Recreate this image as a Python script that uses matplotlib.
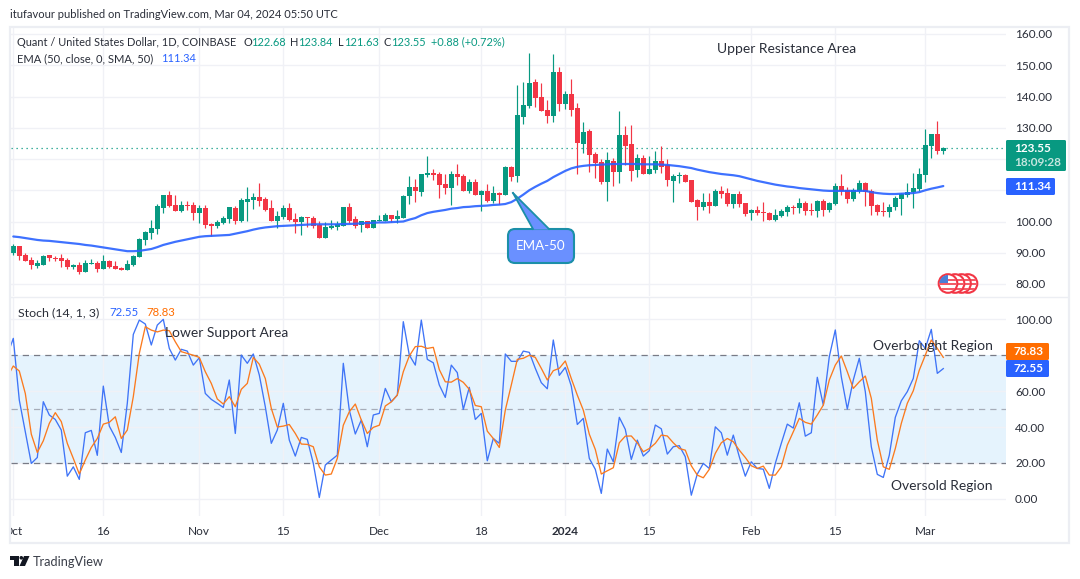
import matplotlib
matplotlib.use("Agg")
import matplotlib.pyplot as plt
import numpy as np
from matplotlib.patches import FancyBboxPatch, Polygon, Rectangle, Circle
from matplotlib.transforms import Bbox

plt.rcParams['font.family'] = ['Lato', 'DejaVu Sans']

opens = [89.8,92.2,89.3,87.7,85.7,86.1,89.3,88.3,88.3,87.7,
85.5,86.1,83.8,86.5,86.7,84.8,87.4,85.8,85.1,84.5,
86.1,88.7,94.1,96.4,97.6,104.4,108.6,105.3,103.4,105.3,
105.3,102.8,104.4,99.3,98.6,99.6,100.9,104.4,100.2,106.3,
107.0,107.9,107.3,104.4,100.2,101.5,104.4,100.9,100.0,101.5,
101.2,98.9,94.8,98.0,98.3,98.6,104.7,100.9,98.9,100.2,
97.9,100.1,100.1,102.0,100.7,101.1,108.1,111.0,109.4,114.8,
115.5,115.2,112.0,110.7,115.2,114.5,109.7,112.6,108.4,109.7,
106.5,109.1,108.4,117.4,114.5,133.4,136.9,144.6,139.8,135.6,
133.7,147.8,137.6,140.8,136.3,124.8,128.9,121.6,119.0,112.6,
119.3,115.8,127.6,124.8,116.4,120.3,115.2,116.4,119.3,118.0,
112.9,114.5,114.8,113.2,106.8,104.7,106.2,104.9,109.7,109.1,
105.5,108.7,105.9,102.7,103.6,102.9,102.7,100.4,101.7,103.0,
104.6,104.3,105.9,103.6,103.3,106.5,103.6,105.5,111.3,110.0,
107.1,109.7,112.3,109.7,105.2,103.3,103.0,104.6,107.1,108.4,
109.4,110.3,114.8,124.1,127.9,122.68]
closes = [92.2,89.0,87.4,86.1,86.8,89.0,88.3,88.1,87.4,85.5,
86.1,83.8,86.7,86.7,84.8,87.4,85.5,84.8,84.5,86.4,
89.0,94.4,96.7,98.0,105.0,108.6,105.0,103.4,105.3,105.0,
102.8,104.4,98.9,98.6,99.9,101.2,104.7,100.2,107.0,107.3,
107.9,106.6,103.7,100.2,101.8,104.4,100.5,99.9,101.5,101.2,
98.6,94.8,98.3,98.6,99.3,104.7,100.2,98.6,100.2,97.9,
100.4,100.3,102.0,100.7,101.7,108.1,111.0,109.7,115.2,115.5,
114.8,111.6,110.7,115.2,114.2,109.7,112.6,108.4,109.7,106.5,
109.1,108.4,117.4,114.2,134.0,137.2,144.3,139.5,135.3,133.7,
147.8,137.6,140.8,135.6,125.1,128.6,121.2,118.7,112.6,119.6,
115.8,127.6,124.1,116.1,120.3,115.2,116.8,119.3,117.4,113.2,
114.5,114.8,112.6,106.2,104.6,106.2,104.9,109.7,108.7,105.5,
108.7,105.5,102.3,103.6,102.7,102.7,100.4,102.0,103.3,104.6,
104.3,105.9,103.3,103.3,106.5,103.6,105.9,111.3,109.7,107.1,
110.0,112.3,109.4,104.9,103.0,103.0,104.6,107.5,108.7,109.4,
110.7,115.1,124.4,127.9,122.5,123.55]
highs = [92.8,92.2,89.8,88.7,87.6,89.2,89.3,89.1,89.6,88.3,
86.4,87.1,87.7,88.0,87.4,89.3,87.7,87.4,85.5,87.7,
89.3,94.8,97.0,100.5,105.7,108.6,109.8,108.6,106.6,106.6,
106.3,105.3,105.3,99.6,100.5,101.8,104.7,105.0,107.6,111.1,
109.2,112.4,107.9,107.0,103.4,105.3,106.0,102.8,101.8,101.5,
101.8,100.2,99.9,100.5,100.2,104.7,106.0,101.8,100.2,100.2,
100.4,102.0,102.7,102.0,103.6,108.4,114.5,113.6,115.2,120.9,
116.8,115.8,115.2,116.1,118.4,115.2,113.6,113.6,110.0,112.0,
111.3,109.4,117.7,117.7,143.6,144.6,153.9,145.6,144.3,138.8,
153.6,149.4,141.7,145.6,137.9,131.8,129.6,122.2,120.0,122.2,
120.3,135.3,130.5,130.8,121.6,121.2,120.9,122.5,124.1,120.0,
115.2,115.8,115.2,113.2,107.2,109.1,109.1,110.3,111.3,110.7,
108.7,109.7,105.9,103.9,104.9,106.2,103.0,103.9,103.9,105.2,
105.2,107.5,106.5,105.9,106.8,107.1,106.2,112.3,115.1,111.0,
110.7,113.2,112.6,110.3,105.5,106.2,105.5,108.1,109.1,112.3,
115.5,117.1,129.5,127.9,132.1,123.84]
lows = [89.3,87.7,87.4,84.8,85.1,86.1,87.5,87.5,85.5,84.9,
84.9,83.2,83.8,86.5,83.8,84.8,85.1,84.8,84.5,84.5,
85.8,88.7,92.5,94.4,96.0,102.8,104.7,103.4,103.1,103.7,
100.5,99.6,98.0,95.4,98.0,99.3,99.6,99.3,99.9,100.2,
104.1,105.0,103.4,100.2,98.0,100.9,100.2,96.4,95.7,98.3,
98.0,94.8,94.8,97.6,97.3,98.6,99.6,98.0,96.7,97.9,
97.9,100.1,100.1,99.7,99.4,101.1,105.5,106.2,108.1,114.2,
113.2,107.5,108.8,105.2,111.6,109.7,109.1,108.4,103.3,106.2,
105.9,105.5,108.4,112.9,112.6,131.2,136.3,136.6,135.3,131.5,
131.8,135.3,136.0,133.7,115.2,121.9,115.8,113.9,112.0,106.5,
111.3,112.3,118.0,112.9,114.2,115.2,115.2,115.5,115.5,111.3,
106.2,112.3,112.6,106.2,100.4,103.6,102.7,104.9,107.5,104.9,
104.3,104.6,101.7,100.4,102.0,100.1,100.4,100.1,101.4,101.7,
102.3,102.7,102.0,102.0,101.4,101.7,103.0,105.2,108.4,105.9,
106.5,109.1,104.9,102.0,102.0,101.7,101.4,103.6,102.0,107.8,
104.3,109.7,112.6,120.3,121.5,121.63]
ema_50 = [95.2,95.0,94.7,94.4,94.1,93.9,93.8,93.6,93.4,93.2,
93.0,92.8,92.5,92.3,92.0,91.7,91.4,91.1,90.8,90.5,
90.5,90.6,90.9,91.2,91.8,92.5,93.0,93.5,93.9,94.3,
94.7,95.1,95.3,95.4,95.5,95.6,95.7,96.1,96.5,96.9,
97.4,97.8,98.1,98.3,98.5,98.6,98.7,98.8,98.9,99.0,
99.1,99.1,99.1,99.1,99.1,99.2,99.2,99.3,99.4,99.5,
99.6,99.7,99.7,99.8,99.9,100.0,100.6,101.1,102.0,102.7,
103.1,103.4,103.7,104.1,104.3,104.6,104.7,104.9,105.0,105.1,
105.3,105.4,105.6,106.2,107.3,108.6,110.0,111.1,112.1,113.0,
114.2,115.2,116.2,117.0,117.5,117.8,118.0,118.1,118.2,118.3,
118.4,118.4,118.4,118.4,118.4,118.3,118.3,118.3,118.2,118.1,
117.9,117.7,117.4,117.1,116.6,116.2,115.8,115.5,115.2,115.0,
114.8,114.5,114.0,113.5,113.0,112.6,112.2,111.8,111.5,111.2,
111.0,110.7,110.5,110.3,110.1,109.9,109.8,109.8,109.8,109.8,
109.8,109.8,109.8,109.4,109.1,108.9,108.8,108.8,108.9,109.0,
109.1,109.4,110.0,110.5,110.9,111.34]
# stochastic series start one session before the first visible candle
stoch_k = [80.1,89.4,55.0,37.4,19.7,23.0,54.1,46.7,44.2,38.3,12.6,
17.8,10.8,36.8,38.1,24.2,62.8,40.5,34.2,25.8,53.2,
91.6,99.6,97.4,85.7,96.8,100.0,83.8,77.3,83.3,82.3,
74.5,78.6,58.7,55.4,53.2,50.9,66.2,36.4,80.1,75.5,
80.7,69.0,51.3,30.9,38.3,53.2,32.7,23.8,34.2,33.1,
19.7,0.7,18.8,21.6,24.3,75.5,49.4,36.1,43.9,29.0,
46.7,47.6,61.5,54.1,57.8,98.7,80.1,74.5,99.6,77.7,
75.8,63.4,56.5,74.5,70.3,49.8,62.1,44.2,47.6,21.2,
33.6,30.9,80.7,76.6,76.6,82.3,81.6,72.7,64.7,61.3,
88.5,68.8,73.2,62.8,41.4,44.8,22.5,16.4,3.0,27.7,
20.6,45.4,38.7,21.9,32.7,23.8,26.8,41.1,39.0,24.9,
29.0,29.6,23.4,2.0,13.8,19.7,16.9,40.1,36.8,24.3,
35.5,23.4,12.6,20.6,16.9,16.5,5.8,19.7,30.9,41.6,
39.4,53.5,34.9,36.8,67.7,52.2,79.2,94.1,68.0,50.0,
66.2,78.3,59.7,29.0,13.6,11.9,24.3,45.4,54.6,59.7,
67.1,88.1,83.8,94.4,69.9,72.55]
stoch_d = [68.0,74.0,71.2,58.7,36.0,25.8,32.3,42.0,48.0,43.0,30.9,
22.5,13.8,21.6,28.6,33.6,41.6,42.6,45.7,33.6,38.3,
56.9,81.0,95.9,94.0,93.0,94.0,93.7,87.5,82.0,81.0,
80.0,78.8,70.8,64.3,55.6,52.8,56.9,51.3,61.0,64.3,
78.8,75.0,67.0,50.4,40.0,40.5,41.4,36.4,30.5,30.3,
29.0,17.8,13.2,13.8,22.5,41.0,48.5,52.8,43.9,36.4,
39.8,41.0,51.7,54.0,57.8,70.8,79.6,84.8,85.0,83.8,
84.4,72.0,65.2,65.0,67.0,64.9,61.0,52.0,51.3,37.7,
33.6,28.6,49.4,63.4,77.7,78.3,80.0,78.8,72.7,66.2,
71.4,72.7,76.8,67.0,57.8,49.4,36.0,27.5,13.8,15.6,
17.3,31.2,34.9,35.0,31.2,26.2,28.0,30.9,35.5,35.0,
31.2,28.0,27.1,18.4,13.2,11.7,16.4,25.3,31.2,33.6,
31.8,27.1,23.0,18.4,16.9,18.2,13.2,13.2,17.8,29.9,
37.4,44.8,42.6,41.6,46.7,52.2,66.2,74.5,79.6,70.8,
61.5,65.2,68.4,56.0,32.7,17.8,16.4,28.0,42.0,53.2,
60.2,71.7,80.0,88.5,83.8,78.83]
date_ticks = [0, 15, 31, 45, 61, 78, 92, 106, 123, 137, 152]
date_labels = ['Oct', '16', 'Nov', '15', 'Dec', '18', '2024', '15', 'Feb', '15', 'Mar']
price_ticks = [80, 90, 100, 110, 120, 130, 140, 150, 160]
hidden_price_labels = [110, 120]   # covered by the last-value badges in the reference
stoch_ticks = [0, 20, 40, 60, 100]
last_close = 123.55
GREEN, RED, BLUE, ORANGE = '#089981', '#F23645', '#2962FF', '#FF6D00'
GRID, FRAME, TXT = '#f0f1f6', '#eceef3', '#2a2e39'
FS = 8.5      # axis text
FS_H = 7.9    # legend rows
FS_A = 10.0   # hand-placed annotations

W, H = 1080, 579
fig = plt.figure(figsize=(W/100, H/100), dpi=100, facecolor='white')
def px_axes(x0, y0, x1, y1, **kw):
    return fig.add_axes([x0/W, 1-y1/H, (x1-x0)/W, (y1-y0)/H], **kw)

x_lim = (-0.383, 165.45)
ax = px_axes(11, 28, 1006, 296)
ax2 = px_axes(11, 298, 1006, 516)

idx = np.arange(len(closes))
o, h, l, c = map(np.array, (opens, highs, lows, closes))
cols = np.where(c >= o, GREEN, RED)
ax.vlines(idx, l, h, colors=cols, lw=0.85, zorder=3)
ax.bar(idx, np.maximum(np.abs(c-o), 0.25), bottom=np.minimum(o, c), width=0.8, color=cols, zorder=3, lw=0)
ax.plot(idx, ema_50, color=BLUE, lw=1.6, alpha=0.9, zorder=4, solid_capstyle='round')
ax.axhline(last_close, color=GREEN, lw=0.9, ls=(0, (1, 3)), zorder=2)
ax.set_xlim(*x_lim)
ax.set_ylim(76.16, 161.92)
ax.set_yticks(price_ticks)
ax.set_yticklabels(['' if v in hidden_price_labels else f'{v:.2f}' for v in price_ticks])
ax.set_xticks(date_ticks)
ax.tick_params(axis='x', length=0, labelbottom=False)

si = np.arange(-1, len(closes))
ax2.axhspan(20, 80, color='#e5f3fd', lw=0, zorder=0.2)
ax2.axhline(80, color='#787b86', lw=0.9, ls=(0, (5, 4)), zorder=1)
ax2.axhline(20, color='#787b86', lw=0.9, ls=(0, (5, 4)), zorder=1)
ax2.axhline(50, color='#a6acb8', lw=0.9, ls=(0, (5, 4)), zorder=1)
ax2.plot(si, stoch_k, color='#3f74f7', lw=0.95, zorder=3)
ax2.plot(si, stoch_d, color='#fb7a1e', lw=0.95, zorder=3)
ax2.set_xlim(*x_lim)
ax2.set_ylim(-9.6, 111.9)
ax2.set_yticks(stoch_ticks)
ax2.set_yticklabels([f'{v:.2f}' for v in stoch_ticks])
ax2.set_xticks(date_ticks)
ax2.set_xticklabels(date_labels)
for a in (ax, ax2):
    a.set_axisbelow(True)
    a.grid(True, color=GRID, lw=1.0)
    for s in a.spines.values():
        s.set_visible(False)
    a.yaxis.tick_right()
    a.tick_params(axis='y', length=0, pad=6.5, labelsize=FS, labelcolor=TXT)
ax2.tick_params(axis='x', length=0, pad=7.5, labelsize=FS, labelcolor=TXT)
for lab, name in zip(ax2.get_xticklabels(), date_labels):
    if name == '2024':
        lab.set_fontweight('bold')
    lab.set_clip_on(True)
    lab.set_clip_box(Bbox([[11, 0], [1006, H]]))

ov = fig.add_axes([0, 0, 1, 1], facecolor='none', zorder=5)
ov.set_xlim(0, W); ov.set_ylim(H, 0); ov.axis('off')
# frame and pane divider
ov.add_patch(Rectangle((10, 27), 1059, 516, fill=False, ec=FRAME, lw=1.6))
ov.plot([11, 1068], [297, 297], color=FRAME, lw=1.0)

def t(x, y, s, color=TXT, size=FS, **kw):
    return ov.text(x, y, s, color=color, fontsize=size, va='center', ha=kw.pop('ha', 'left'), **kw)

t(10, 15, 'itufavour published on TradingView.com, Mar 04, 2024 05:50 UTC', size=8.0)
t(17, 42, 'Quant / United States Dollar, 1D, COINBASE', size=FS_H)
for x, s, col in [(243, 'O', TXT), (251, '122.68', GREEN), (290, 'H', TXT), (298, '123.84', GREEN),
                  (338, 'L', TXT), (344, '121.63', GREEN), (384, 'C', TXT), (391, '123.55', GREEN),
                  (431, '+0.88 (+0.72%)', GREEN)]:
    t(x, 42, s, color=col, size=FS_H)
t(17, 59, 'EMA (50, close, 0, SMA, 50)', size=8.0)
t(161, 59, '111.34', color=BLUE, size=FS_H)
t(18, 313, 'Stoch (14, 1, 3)', size=8.9)
t(109, 313, '72.55', color=BLUE, size=8.2)
t(146, 313, '78.83', color=ORANGE, size=8.2)

t(717, 49, 'Upper Resistance Area', size=FS_A)
t(165, 333, 'Lower Support Area', size=FS_A)
t(873, 346, 'Overbought Region', size=FS_A)
t(891, 486, 'Oversold Region', size=FS_A)

# callout
CAL, CALE = '#6a90ff', '#1b8fa8'
ov.add_patch(FancyBboxPatch((512, 233), 58, 26, boxstyle='round,pad=4,rounding_size=7', fc=CAL, ec=CALE, lw=1.5, zorder=6))
ov.add_patch(Polygon([(513, 193), (533, 229.5), (549, 229.5)], closed=True, fc=CAL, ec='none', zorder=7))
ov.plot([513, 533], [193, 229], color=CALE, lw=1.3, zorder=7)
ov.plot([513, 549], [193, 229], color=CALE, lw=1.3, zorder=7)
t(541, 246, 'EMA-50', color='white', size=9.6, ha='center', zorder=8)

# last-value badges
def badge(x0, y0, x1, y1, col):
    ov.add_patch(FancyBboxPatch((x0+1, y0+1), x1-x0-2, y1-y0-2, boxstyle='round,pad=1,rounding_size=1.5', fc=col, ec='none', zorder=6))
badge(1006, 140, 1066, 171, GREEN)
t(1014, 148.5, '123.55', color='white', zorder=8, fontweight='bold')
t(1014, 163, '18:09:28', color='#c5e6df', zorder=8, fontweight='bold')
badge(1006, 178, 1055, 195, BLUE)
t(1014, 186.5, '111.34', color='white', zorder=8, fontweight='bold')
badge(1006, 343, 1049, 360, ORANGE)
t(1014, 351.5, '78.83', color='white', zorder=8, fontweight='bold')
badge(1006, 360, 1049, 377, BLUE)
t(1014, 368.5, '72.55', color='white', zorder=8, fontweight='bold')

# economic-event flags
for i, cx in enumerate([968, 961.5, 955, 948]):
    z = 6 + i*0.1
    ov.add_patch(Circle((cx, 283.5), 9.3, fc='white', ec=RED, lw=1.5, zorder=z))
    clip = Circle((cx, 283.5), 8.6, transform=ov.transData)
    for yy in (278.5, 283, 287.5):
        r = Rectangle((cx-10, yy), 20, 2.4, fc='#f25c68', ec='none', zorder=z+0.01)
        ov.add_patch(r); r.set_clip_path(clip)
    if i == 3:
        r = Rectangle((cx-9, 275), 9, 8, fc='#4a7fd8', ec='none', zorder=z+0.02)
        ov.add_patch(r); r.set_clip_path(clip)

# TradingView logo
LOGO = '#131722'
ov.add_patch(Polygon([(10, 556), (18.5, 556), (18.5, 566), (14, 566), (14, 559.5), (10, 559.5)], closed=True, fc=LOGO, ec='none'))
ov.add_patch(Circle((21.3, 557.8), 1.8, fc=LOGO, ec='none'))
ov.add_patch(Polygon([(24, 556), (29.5, 556), (25, 566), (19.5, 566)], closed=True, fc=LOGO, ec='none'))
t(33, 561.5, 'TradingView', color='#3a3e49', size=9.2)

fig.savefig('out.png', dpi=100)
